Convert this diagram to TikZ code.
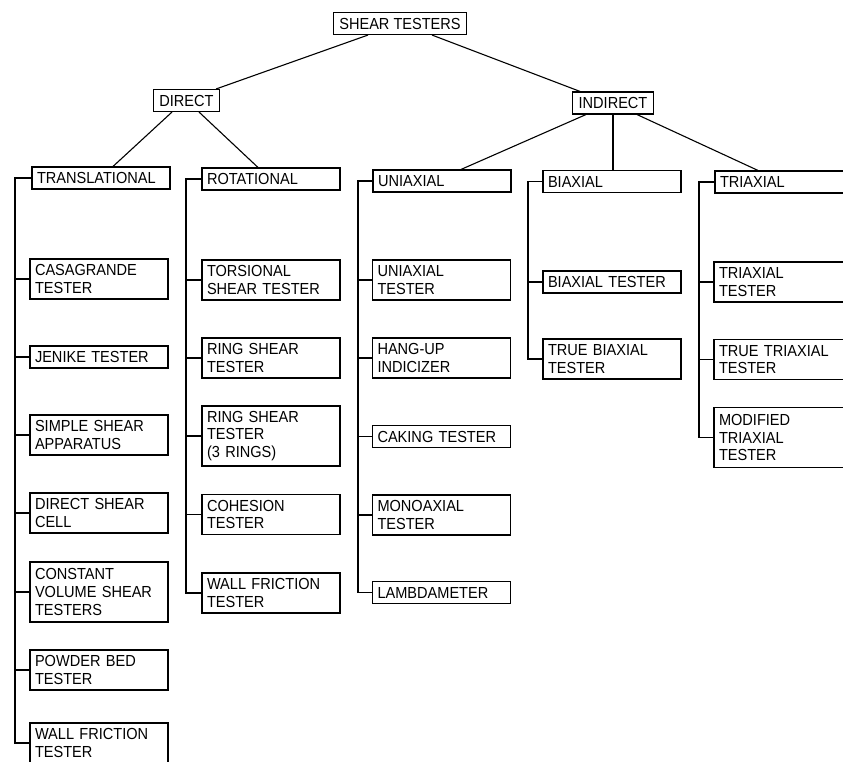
\documentclass[tikz,border=0pt]{standalone}
\usepackage{fontspec}
\setmainfont{Liberation Sans}[FakeStretch=0.91]
\begin{document}
\begin{tikzpicture}[
		x=1pt, y=-1pt,
		line width=1.1pt,
		font=\fontsize{16}{17.7}\selectfont
	]
	\tikzset{
		topnode/.style = {draw=black, fill=white, inner xsep=6pt, inner ysep=0pt, minimum height=22pt},
		leafnode/.style = {draw=black, fill=white, align=left, text width=128pt, inner xsep=5pt, inner ysep=0pt, minimum height=22pt},
		twoline/.style = {minimum height=40pt},
		threeline/.style = {minimum height=60pt},
		edgen/.style = {-, black},
	}
	\clip (0,0) rectangle (843,762);
	\fill[white] (0,0) rectangle (843,762);
	% top levels
	\node[topnode] at (400,23.5) (st) {SHEAR TESTERS};
	\node[topnode] at (186.5,100.5) (direct) {DIRECT};
	\node[topnode] at (613,103) (indirect) {INDIRECT};
	%
	\node[leafnode] at (101,178) (trans) {TRANSLATIONAL};
	\node[leafnode] at (271,179) (rot) {ROTATIONAL};
	\node[leafnode] at (442,181) (uni) {UNIAXIAL};
	\node[leafnode] at (612,181.5) (biax) {BIAXIAL};
	\node[leafnode] at (784,182) (triax) {TRIAXIAL};
	% translational
	\node[leafnode, twoline] at (99,279) (cas) {CASAGRANDE\\TESTER};
	\node[leafnode] at (99,357) (jen) {JENIKE TESTER};
	\node[leafnode, twoline] at (99,435) (sim) {SIMPLE SHEAR\\APPARATUS};
	\node[leafnode, twoline] at (99,513) (dsc) {DIRECT SHEAR\\CELL};
	\node[leafnode, threeline] at (99,592) (cvs) {CONSTANT\\VOLUME SHEAR\\TESTERS};
	\node[leafnode, twoline] at (99,670) (pbt) {POWDER BED\\TESTER};
	\node[leafnode, twoline] at (99,743) (wfa) {WALL FRICTION\\TESTER};
	% rotational
	\node[leafnode, twoline] at (271,280) (tor) {TORSIONAL\\SHEAR TESTER};
	\node[leafnode, twoline] at (271,358) (rst) {RING SHEAR\\TESTER};
	\node[leafnode, threeline] at (271,436) (rtr) {RING SHEAR\\TESTER\\(3 RINGS)};
	\node[leafnode, twoline] at (271,514.5) (coh) {COHESION\\TESTER};
	\node[leafnode, twoline] at (271,593) (wfb) {WALL FRICTION\\TESTER};
	% uniaxial
	\node[leafnode, twoline] at (441.5,280) (ut) {UNIAXIAL\\TESTER};
	\node[leafnode, twoline] at (441.5,358) (hang) {HANG-UP\\INDICIZER};
	\node[leafnode] at (441.5,436.5) (cak) {CAKING TESTER};
	\node[leafnode, twoline] at (441.5,515) (mono) {MONOAXIAL\\TESTER};
	\node[leafnode] at (441.5,592.5) (lam) {LAMBDAMETER};
	% biaxial
	\node[leafnode] at (612,282) (bt) {BIAXIAL TESTER};
	\node[leafnode, twoline] at (612,359) (tbt) {TRUE BIAXIAL\\TESTER};
	% triaxial
	\node[leafnode, twoline] at (783,282) (tt) {TRIAXIAL\\TESTER};
	\node[leafnode, twoline] at (783,359.5) (ttt) {TRUE TRIAXIAL\\TESTER};
	\node[leafnode, threeline] at (783,437.5) (mod) {MODIFIED\\TRIAXIAL\\TESTER};
	%
	\draw[edgen] ([xshift=-32pt]st.south) -- ([xshift=-4pt]direct.north east);
	\draw[edgen] ([xshift=32pt]st.south) -- ([xshift=8pt]indirect.north west);
	\draw[edgen] ([xshift=-14.5pt]direct.south) -- ([xshift=12pt]trans.north);
	\draw[edgen] ([xshift=12.5pt]direct.south) -- ([xshift=-13pt]rot.north);
	\draw[edgen] ([xshift=-27pt]indirect.south) -- ([xshift=19pt]uni.north);
	\draw[edgen] (indirect.south) -- (indirect.south |- biax.north);
	\draw[edgen] ([xshift=24pt]indirect.south) -- ([xshift=-26pt]triax.north);
	%
	\coordinate (ta) at (15,178);
	\coordinate (tb) at (186,179);
	\coordinate (tc) at (358,181);
	\coordinate (td) at (528,181.5);
	\coordinate (te) at (699,182);
	%
	\draw[edgen] (trans.west) -- (ta) |- (wfa.west);
	\draw[edgen] (cas.west) -- (cas.west -| ta);
	\draw[edgen] (jen.west) -- (jen.west -| ta);
	\draw[edgen] (sim.west) -- (sim.west -| ta);
	\draw[edgen] (dsc.west) -- (dsc.west -| ta);
	\draw[edgen] (cvs.west) -- (cvs.west -| ta);
	\draw[edgen] (pbt.west) -- (pbt.west -| ta);
	%
	\draw[edgen] (rot.west) -- (tb) |- (wfb.west);
	\draw[edgen] (tor.west) -- (tor.west -| tb);
	\draw[edgen] (rst.west) -- (rst.west -| tb);
	\draw[edgen] (rtr.west) -- (rtr.west -| tb);
	\draw[edgen] (coh.west) -- (coh.west -| tb);
	%
	\draw[edgen] (uni.west) -- (tc) |- (lam.west);
	\draw[edgen] (ut.west) -- (ut.west -| tc);
	\draw[edgen] (hang.west) -- (hang.west -| tc);
	\draw[edgen] (cak.west) -- (cak.west -| tc);
	\draw[edgen] (mono.west) -- (mono.west -| tc);
	%
	\draw[edgen] (biax.west) -- (td) |- (tbt.west);
	\draw[edgen] (bt.west) -- (bt.west -| td);
	%
	\draw[edgen] (triax.west) -- (te) |- (mod.west);
	\draw[edgen] (tt.west) -- (tt.west -| te);
	\draw[edgen] (ttt.west) -- (ttt.west -| te);
\end{tikzpicture}
\end{document}
